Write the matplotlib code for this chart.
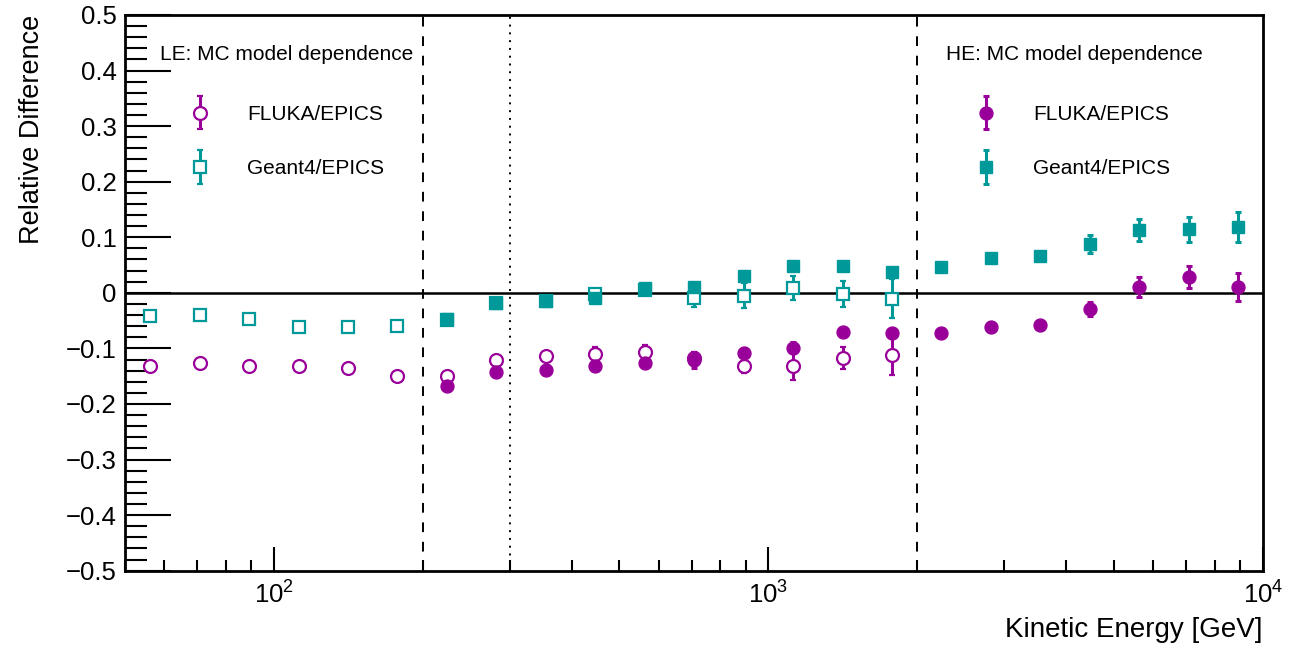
import matplotlib
matplotlib.use("Agg")
import matplotlib.pyplot as plt
from matplotlib.ticker import LogLocator, MultipleLocator, FuncFormatter
from matplotlib.container import ErrorbarContainer
from matplotlib.legend_handler import HandlerErrorbar

plt.rcParams['font.family'] = ['Liberation Sans', 'DejaVu Sans']
plt.rcParams['mathtext.fontset'] = 'custom'
plt.rcParams['mathtext.rm'] = 'Liberation Sans'
plt.rcParams['axes.unicode_minus'] = True

# bin centres (GeV)
energy_le = [56.2, 70.8, 89.1, 112.2, 141.3, 177.8, 223.9, 281.8, 354.8, 446.7,
             562.3, 707.9, 891.3, 1122.0, 1412.5, 1778.3]
energy_he = [223.9, 281.8, 354.8, 446.7, 562.3, 707.9, 891.3, 1122.0, 1412.5,
             1778.3, 2238.7, 2818.4, 3548.1, 4466.8, 5623.4, 7079.5, 8912.5]

# LE: open markers
le_fluka = [-0.132, -0.126, -0.131, -0.132, -0.135, -0.150, -0.150, -0.120, -0.114,
            -0.110, -0.107, -0.117, -0.131, -0.131, -0.117, -0.111]
le_fluka_err = [0.003, 0.003, 0.003, 0.003, 0.003, 0.003, 0.004, 0.005, 0.006,
                0.012, 0.013, 0.010, 0.013, 0.025, 0.020, 0.036]
le_g4 = [-0.042, -0.040, -0.047, -0.062, -0.062, -0.059, -0.048, -0.019, -0.015,
         -0.003, 0.005, -0.009, -0.005, 0.009, -0.002, -0.011]
le_g4_err = [0.003, 0.003, 0.003, 0.003, 0.003, 0.003, 0.003, 0.003, 0.004,
             0.008, 0.008, 0.016, 0.023, 0.022, 0.024, 0.035]

# HE: filled markers
he_fluka = [-0.167, -0.143, -0.138, -0.131, -0.126, -0.121, -0.108, -0.099, -0.071,
            -0.072, -0.073, -0.061, -0.058, -0.029, 0.010, 0.028, 0.010]
he_fluka_err = [0.003, 0.003, 0.003, 0.005, 0.005, 0.015, 0.008, 0.010, 0.004,
                0.004, 0.003, 0.004, 0.004, 0.013, 0.018, 0.020, 0.025]
he_g4 = [-0.047, -0.018, -0.014, -0.009, 0.008, 0.010, 0.030, 0.048, 0.048,
         0.038, 0.046, 0.062, 0.066, 0.088, 0.113, 0.114, 0.119]
he_g4_err = [0.003, 0.003, 0.003, 0.004, 0.005, 0.006, 0.010, 0.005, 0.005,
             0.006, 0.004, 0.004, 0.007, 0.016, 0.020, 0.023, 0.027]

purple = '#990099'
teal = '#009999'

fig = plt.figure(figsize=(12.92, 6.46), dpi=100)
ax = fig.add_axes([0.0967, 0.1166, 0.8808, 0.8602])

eb = dict(ls='none', elinewidth=2.2, capsize=2, capthick=2.2)

# LE (open) first, HE (filled) on top
l_fl = ax.errorbar(energy_le, le_fluka, yerr=le_fluka_err, fmt='o', color=purple,
                   mfc='white', mec=purple, mew=1.6, ms=9.3, zorder=3, **eb)
l_g4 = ax.errorbar(energy_le, le_g4, yerr=le_g4_err, fmt='s', color=teal,
                   mfc='white', mec=teal, mew=1.6, ms=8.7, zorder=3, **eb)
h_fl = ax.errorbar(energy_he, he_fluka, yerr=he_fluka_err, fmt='o', color=purple,
                   ms=9.3, zorder=4, **eb)
h_g4 = ax.errorbar(energy_he, he_g4, yerr=he_g4_err, fmt='s', color=teal,
                   ms=8.7, zorder=4, **eb)

ax.axhline(0, color='black', lw=1.8, zorder=2)
ax.axvline(200, color='black', lw=1.4, ls=(0, (5, 5)), zorder=2)
ax.axvline(2000, color='black', lw=1.4, ls=(0, (5, 5)), zorder=2)
ax.axvline(300, color='black', lw=1.4, ls=(0, (1, 3)), zorder=2)

ax.set_xscale('log')
ax.set_xlim(50, 1e4)
ax.set_ylim(-0.5, 0.5)

ax.yaxis.set_major_locator(MultipleLocator(0.1))
ax.yaxis.set_minor_locator(MultipleLocator(0.02))
ax.yaxis.set_major_formatter(FuncFormatter(
    lambda v, p: '0' if abs(v) < 1e-9 else ('%g' % round(v, 2)).replace('-', '\u2212')))
ax.xaxis.set_major_locator(LogLocator(base=10))
ax.xaxis.set_minor_locator(LogLocator(base=10, subs=range(2, 10)))

ax.tick_params(which='both', direction='in', top=False, right=False,
               labelsize=18.5, width=1.5)
ax.tick_params(axis='y', which='major', length=33, pad=6)
ax.tick_params(axis='y', which='minor', length=16)
ax.tick_params(axis='x', which='major', length=17, pad=8)
ax.tick_params(axis='x', which='minor', length=8)

for s in ax.spines.values():
    s.set_linewidth(2)

ax.set_ylabel('Relative Difference', fontsize=19.5, loc='top', labelpad=15)
ax.set_xlabel('Kinetic Energy [GeV]', fontsize=20, loc='right', labelpad=6)

# legend headers
ax.text(0.0305, 0.928, 'LE: MC model dependence', transform=ax.transAxes,
        fontsize=15, va='center', ha='left')
ax.text(0.7214, 0.928, 'HE: MC model dependence', transform=ax.transAxes,
        fontsize=15, va='center', ha='left')

hmap = {ErrorbarContainer: HandlerErrorbar(yerr_size=0.8)}
leg_kw = dict(fontsize=15, loc='upper left', frameon=False,
              labelspacing=1.7, handletextpad=0.35,
              handlelength=3.85, borderaxespad=0, handler_map=hmap)

leg1 = ax.legend([l_fl, l_g4], ['FLUKA/EPICS', 'Geant4/EPICS'],
                 bbox_to_anchor=(0.0230, 0.853), **leg_kw)
ax.add_artist(leg1)
leg2 = ax.legend([h_fl, h_g4], ['FLUKA/EPICS', 'Geant4/EPICS'],
                 bbox_to_anchor=(0.714, 0.853), **leg_kw)

fig.savefig('out.png', dpi=100)
